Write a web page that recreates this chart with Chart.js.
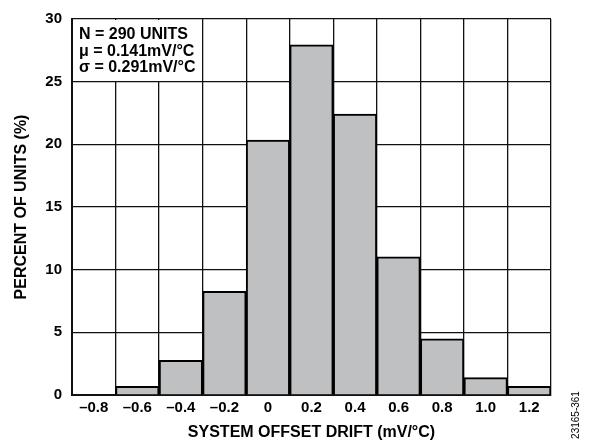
<!DOCTYPE html>
<html>
<head>
<meta charset="utf-8">
<script src="https://cdn.jsdelivr.net/npm/chart.js@4"></script>
<style>
  html, body { margin: 0; padding: 0; background: #fff; }
  #wrap { width: 589px; height: 446px; position: relative; }
</style>
</head>
<body>
<div id="wrap"><canvas id="driftChart"></canvas></div>
<script>
// histogram bins (mV/°C) and percent of units in each
const driftBins = ['\u20130.8', '\u20130.6', '\u20130.4', '\u20130.2', '0', '0.2', '0.4', '0.6', '0.8', '1.0', '1.2'];
const percentUnits = [0, 0.69, 2.76, 8.28, 20.34, 27.93, 22.41, 11.03, 4.48, 1.38, 0.69];
const yTicks = [0, 5, 10, 15, 20, 25, 30];
const statsLines = ['N = 290 UNITS', '\u03bc = 0.141mV/\u00b0C', '\u03c3 = 0.291mV/\u00b0C'];
const figureId = '23165-361';

const FONT = "'Liberation Sans', Arial, Helvetica, sans-serif";

const statsBox = {
    id: 'statsBox',
    beforeDatasetsDraw(chart) {
        const { ctx, chartArea: a } = chart;
        ctx.save();
        ctx.fillStyle = '#fff';
        ctx.fillRect(a.left + 1, a.top + 1, 127, 61);
        ctx.fillStyle = '#000';
        ctx.font = 'bold 16px ' + FONT;
        ctx.textBaseline = 'alphabetic';
        statsLines.forEach((t, i) => ctx.fillText(t, a.left + 7, a.top + 20 + i * 16.5));
        ctx.restore();
    },
    afterDraw(chart) {
        const { ctx } = chart;
        ctx.save();
        ctx.translate(576, 415);
        ctx.rotate(-Math.PI / 2);
        ctx.font = '10px ' + FONT;
        ctx.fillStyle = '#000';
        ctx.textAlign = 'center';
        ctx.textBaseline = 'middle';
        ctx.fillText(figureId, 0, 0);
        ctx.restore();
    }
};

new Chart(document.getElementById('driftChart'), {
    type: 'bar',
    data: {
        labels: driftBins,
        datasets: [{
            data: percentUnits,
            backgroundColor: '#bfc0c2',
            borderColor: '#000',
            borderWidth: 2,
            barPercentage: 1,
            categoryPercentage: 1
        }]
    },
    options: {
        responsive: true,
        maintainAspectRatio: false,
        animation: false,
        layout: { padding: { left: 0, right: 38, top: 12, bottom: 0 } },
        plugins: { legend: { display: false }, tooltip: { enabled: false } },
        scales: {
            x: {
                grid: { color: '#111', lineWidth: 1.3, drawTicks: false, offset: true },
                border: { color: '#111', width: 2 },
                ticks: { color: '#000', padding: 4, font: { family: FONT, size: 15, weight: 'bold' }, maxRotation: 0 },
                title: { display: true, text: 'SYSTEM OFFSET DRIFT (mV/\u00b0C)', color: '#000',
                         font: { family: FONT, size: 16, weight: 'bold' }, padding: { top: 0, bottom: 4 } },
                afterFit(scale) { scale.height = 51; }
            },
            y: {
                min: 0,
                max: 30,
                grid: { color: '#111', lineWidth: 1.3, drawTicks: false },
                border: { color: '#111', width: 2 },
                afterBuildTicks(scale) { scale.ticks = yTicks.map(v => ({ value: v })); },
                ticks: { color: '#000', padding: 10, font: { family: FONT, size: 15, weight: 'bold' } },
                title: { display: true, text: 'PERCENT OF UNITS (%)', color: '#000',
                         font: { family: FONT, size: 16, weight: 'bold' }, padding: { top: 12, bottom: 0 } },
                afterFit(scale) { scale.width = 72; }
            }
        }
    },
    plugins: [statsBox]
});
</script>
</body>
</html>
